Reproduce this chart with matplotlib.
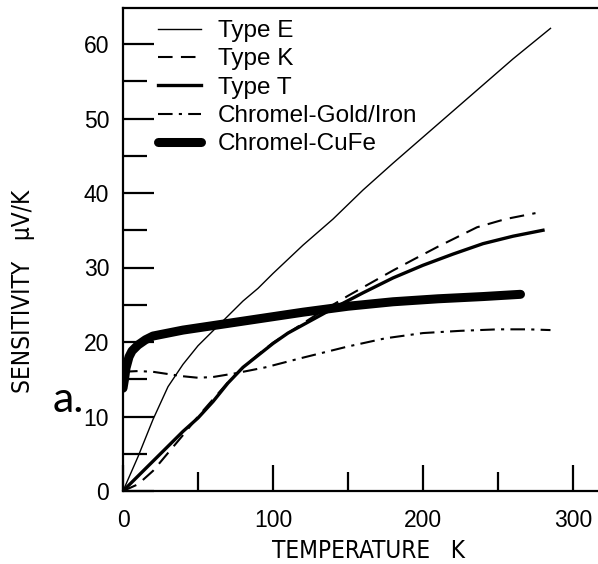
import matplotlib
matplotlib.use("Agg")
import matplotlib.pyplot as plt
from matplotlib.ticker import MultipleLocator
from matplotlib import font_manager as fm

plt.rcParams['font.family'] = ['Liberation Sans', 'DejaVu Sans']

# ---- data (temperature K, sensitivity uV/K) ----
e_T = [0, 10, 20, 30, 40, 50, 60, 70, 80, 90, 100, 120, 140, 160, 180, 200, 220, 240, 260, 285]
e_S = [0, 4.6, 9.6, 14.0, 17.0, 19.5, 21.5, 23.5, 25.5, 27.2, 29.2, 33.0, 36.5, 40.4, 44.0, 47.5, 51.0, 54.5, 58.0, 62.1]

k_T = [0, 10, 20, 30, 40, 50, 60, 70, 80, 90, 100, 110, 120, 130, 140, 150, 165, 180, 193, 210, 236, 255, 275]
k_S = [0, 0.9, 2.7, 5.1, 7.5, 10.0, 12.3, 14.6, 16.6, 18.3, 19.9, 21.2, 22.5, 23.8, 25.0, 26.2, 27.9, 29.6, 31.0, 32.8, 35.4, 36.5, 37.3]

t_T = [0, 10, 20, 30, 40, 50, 60, 70, 80, 90, 100, 110, 120, 130, 140, 160, 180, 200, 220, 240, 260, 280]
t_S = [0, 2.0, 4.0, 6.0, 8.0, 9.8, 12.0, 14.5, 16.6, 18.2, 19.8, 21.2, 22.3, 23.4, 24.5, 26.6, 28.6, 30.3, 31.8, 33.2, 34.2, 35.0]

g_T = [0, 10, 20, 30, 40, 50, 60, 75, 95, 118, 150, 175, 200, 225, 250, 270, 285]
g_S = [16.0, 16.1, 16.0, 15.7, 15.4, 15.2, 15.3, 15.8, 16.6, 17.8, 19.4, 20.5, 21.2, 21.5, 21.7, 21.7, 21.6]

c_T = [0, 1, 2, 4, 6, 10, 15, 20, 30, 40, 50, 70, 100, 120, 150, 180, 210, 240, 265]
c_S = [13.8, 15.0, 16.5, 18.0, 18.8, 19.6, 20.3, 20.8, 21.2, 21.6, 21.9, 22.5, 23.4, 24.0, 24.8, 25.4, 25.8, 26.1, 26.4]

labels = ['Type E', 'Type K', 'Type T', 'Chromel-Gold/Iron', 'Chromel-CuFe']
x_ticks = [0, 100, 200, 300]
y_ticks = [0, 10, 20, 30, 40, 50, 60]

# pick a regular-weight condensed sans font for the axis titles if one is installed
def _is_regular(w):
    return w in (400, '400', 'normal', 'regular', 'book', 'Regular', 'Book')

cands = [f for f in fm.fontManager.ttflist
         if str(f.stretch) in ('condensed', 'semi-condensed')
         and f.style == 'normal' and _is_regular(f.weight)
         and 'Mono' not in f.name and 'Serif' not in f.name]
order = ['Liberation Sans Narrow', 'DejaVu Sans', 'Noto Sans', 'Open Sans', 'Roboto']
cands.sort(key=lambda f: (order.index(f.name) if f.name in order else 99,
                          0 if str(f.stretch) == 'condensed' else 1, f.fname))
if cands:
    fp_x = fm.FontProperties(fname=cands[0].fname, size=17.5)
    fp_y = fm.FontProperties(fname=cands[0].fname, size=17.5)
else:
    fp_x = fm.FontProperties(family=['Liberation Sans', 'DejaVu Sans'], size=15)
    fp_y = fm.FontProperties(family=['Liberation Sans', 'DejaVu Sans'], size=15.5)

fig = plt.figure(figsize=(5.98, 5.64), dpi=100)
ax = fig.add_axes([123 / 598, (564 - 491) / 564, 1 - 123 / 598, (491 - 8) / 564])

ax.plot(e_T, e_S, color='black', lw=1.0, label=labels[0])
ax.plot(k_T, k_S, color='black', lw=1.5, dashes=(7, 4), label=labels[1])
ax.plot(t_T, t_S, color='black', lw=2.4, label=labels[2])
ax.plot(g_T, g_S, color='black', lw=1.5, dashes=(7, 3, 1.5, 3), label=labels[3])
ax.plot(c_T, c_S, color='black', lw=6.5, solid_capstyle='round', label=labels[4])

ax.set_xlim(0, (598 - 123) / 1.5)
ax.set_ylim(0, (491 - 8) / 7.45)

ax.spines['right'].set_visible(False)
for s in ['left', 'bottom', 'top']:
    ax.spines[s].set_linewidth(1.6)

ax.set_xticks(x_ticks)
ax.xaxis.set_minor_locator(MultipleLocator(50))
ax.set_yticks(y_ticks)
ax.yaxis.set_minor_locator(MultipleLocator(5))
ax.tick_params(axis='x', which='major', direction='in', length=19, width=1.6, pad=13, labelsize=16.5, top=False)
ax.tick_params(axis='x', which='minor', direction='in', length=14, width=1.6, top=False)
ax.tick_params(axis='y', which='major', direction='in', length=22, width=1.6, pad=10, labelsize=16.5, right=False)
ax.tick_params(axis='y', which='minor', direction='in', length=17, width=1.6, right=False)

leg = ax.legend(loc='upper left', bbox_to_anchor=(158 / 598, 1 - 20 / 564),
                bbox_transform=fig.transFigure, frameon=False, fontsize=17.5,
                handlelength=1.75, handletextpad=0.7, labelspacing=0.26,
                borderpad=0, borderaxespad=0)

fig.text(368 / 598, 1 - 551 / 564, 'TEMPERATURE   K', ha='center', va='center',
         fontproperties=fp_x)
fig.text(23 / 598, 1 - 291 / 564, 'SENSITIVITY   \u03bcV/K', ha='center', va='center',
         rotation=90, fontproperties=fp_y)
fig.text(68 / 598, 1 - 400 / 564, 'a.', ha='center', va='center', fontsize=31,
         family=['Lato', 'DejaVu Sans'])

fig.savefig('out.png', dpi=100)
